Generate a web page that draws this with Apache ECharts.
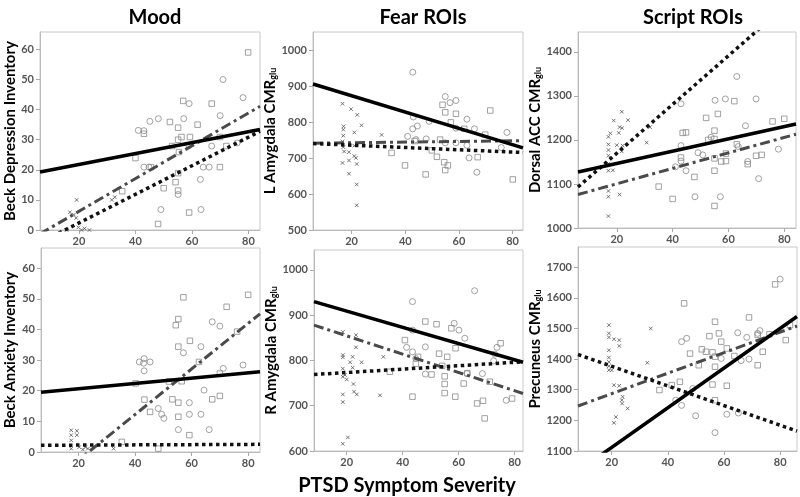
<!DOCTYPE html>
<html><head><meta charset="utf-8">
<script src="https://cdn.jsdelivr.net/npm/echarts@6/dist/echarts.min.js"></script>
<style>html,body{margin:0;padding:0;background:#fff}#c{width:800px;height:497px}</style>
</head><body><div id="c"></div>
<script>
// ---------- data ----------
const columnTitles = ['Mood', 'Fear ROIs', 'Script ROIs'];
const xTitle = 'PTSD Symptom Severity';
const xTicks = [20, 40, 60, 80];
const yNames = ['Beck Depression Inventory', 'L Amygdala CMR{s|glu}', 'Dorsal ACC CMR{s|glu}',
                'Beck Anxiety Inventory', 'R Amygdala CMR{s|glu}', 'Precuneus CMR{s|glu}'];
const yTicks = [
  [0, 10, 20, 30, 40, 50, 60],
  [500, 600, 700, 800, 900, 1000],
  [1000, 1100, 1200, 1300, 1400],
  [0, 10, 20, 30, 40, 50, 60],
  [600, 700, 800, 900, 1000],
  [1100, 1200, 1300, 1400, 1500, 1600, 1700]
];
const xRanges = [[6.2, 84.1], [5.6, 83.9], [6.1, 84.2], [6.7, 84.2], [8.3, 83], [8, 86]];
const yRanges = [[0, 65.8], [500, 1052], [1000, 1445], [0, 66.6], [600, 1044], [1100, 1766]];

// Beck Depression Inventory
const bdiCircles = [[41,33.1],[43,33],[45.1,36.1],[48.1,37],[57.1,37],[59,42],[43,20.9],[44.8,20.9],[49,6.8],[55.1,11.8],[59,28.1],[63,16.8],[63.2,6.8],[64,20.9],[66.1,20.9],[67,27.9],[70,38],[71,50],[76,28.9],[78.1,44]];
const bdiSquares = [[79.9,59],[40,23.9],[43,32],[45.5,20.9],[52.2,35.9],[53,27.9],[55.1,34],[56.9,42.9],[55.1,30],[56.3,30.9],[59.3,30.9],[55.4,25.9],[55.1,18.9],[54.2,15.9],[50,13.9],[55.1,13.1],[48,2],[59,5.8],[62,35],[67,42],[69.9,20.9],[69.9,30.9],[72.2,27.9],[35.3,12.9]];
const bdiCrosses = [[19.2,10],[16.8,5.9],[18.2,5.1],[31.6,10],[32.7,10.9],[20.9,0],[23.7,0],[15.6,0],[19.8,0.9],[19,4],[22,0.5]];
const bdiSolid = [[6.2,19.3],[84.1,33.4]];
const bdiDash = [[6.2,-1.3],[84.1,41.1]];
const bdiDot = [[6.2,-4.2],[84.1,32.8]];

// L Amygdala
const lamyCircles = [[42.8,940],[43,815],[42.8,782],[44.5,790],[40.9,761],[47.8,754],[48.9,803],[54.9,872],[56.7,855],[58.9,861],[58.9,784],[63,809],[65.8,782],[58.9,743],[54.9,743],[63.8,701],[66.7,661],[63,736],[77.9,772],[44,752],[75.8,730]];
const lamySquares = [[53.9,849],[54.9,828],[58.9,824],[57,800],[62,782],[71.7,833],[69.8,766],[53,752],[51.8,704],[49.9,722],[54.5,689],[54.9,667],[55.9,680],[47.6,655],[39.9,680],[34.9,715],[67,703],[80.1,641],[43.5,748]];
const lamyCrosses = [[16.6,852],[17,789],[16.9,780],[16.9,763],[16.6,747],[16.9,731],[17.2,719],[16.6,687],[19,694],[19,717],[19.8,837],[22.1,821],[21,772],[21,706],[21.6,701],[21.9,684],[21.9,627],[21.9,569],[19,657],[23.7,792],[31.2,765],[21,735]];
const lamySolid = [[5.6,907],[83.9,729]];
const lamyDash = [[5.6,742],[83.9,749]];
const lamyDot = [[5.6,741],[83.9,716]];

// Dorsal ACC
const daccCircles = [[43,1282],[43,1187],[43,1152],[41,1139],[44.8,1130],[48,1071],[49.1,1171],[55.2,1290],[58.9,1293],[57.1,1071],[63,1344],[63.5,1185],[66.1,1232],[66.9,1151],[69.9,1293],[70.8,1112],[77.9,1179],[53.8,1206],[50.8,1166]];
const daccSquares = [[35,1094],[40,1066],[43.6,1216],[44.8,1217],[43,1160],[47.8,1116],[52,1250],[52.8,1200],[55,1221],[55,1202],[55,1158],[55,1130],[55,1050],[56.2,1259],[59.1,1169],[59.1,1152],[57.4,1151],[62.1,1288],[63,1190],[66.9,1145],[69.9,1164],[71.9,1166],[75.8,1242],[80,1248]];
const daccCrosses = [[17,1027],[17,1071],[17,1084],[17,1130],[17,1146],[17,1164],[17,1177],[17,1190],[17,1207],[17.7,1215],[18.9,1244],[18.6,1131],[20,1188],[20.7,1216],[21,1229],[21.9,1227],[21.8,1264],[22.1,1187],[21.8,1174],[21,1076],[24,1245],[30.7,1194],[31.9,1229]];
const daccSolid = [[6.1,1127],[84.2,1236]];
const daccDash = [[6.1,1076],[84.2,1213]];
const daccDot = [[6.1,1093],[84.2,1525]];

// Beck Anxiety Inventory
const baiCircles = [[41.5,29.4],[43.2,30.5],[43.2,26.5],[45.3,29.4],[43,29],[48.2,14.2],[49.4,12.3],[57.1,32.4],[59.2,16.1],[59.2,12.3],[55.3,7.3],[63.3,34.4],[63.3,12.3],[64.4,20.2],[66.2,7.3],[67.3,42.5],[70,41.1],[71.2,27.3],[78.2,28.4],[50.2,11]];
const baiSquares = [[57.1,50.5],[80,51.3],[72.4,47.4],[54.4,41.4],[55.3,43.4],[59.4,36.3],[55.3,34.4],[62.6,29.4],[70,25.6],[76.1,39.3],[40.2,22.4],[43.3,17.1],[45.3,13.1],[53.2,17.2],[55.3,16.1],[55.3,11.5],[56.5,23.1],[67.3,17.2],[70,18.3],[59.2,5.5],[48.2,1.1],[35.3,3.3],[52,23]];
const baiCrosses = [[17.4,7.1],[19.4,6.9],[17.4,5.5],[17.4,3.8],[17.4,1.1],[20.2,1.6],[21.5,0.8],[22.4,1.6],[23.3,1.1],[32.4,1.1],[19.4,5.5]];
const baiSolid = [[6.7,19.5],[84.2,26.2]];
const baiDash = [[6.7,-12.5],[84.2,45.1]];
const baiDot = [[6.7,2.2],[84.2,2.5]];

// R Amygdala
const ramyCircles = [[43.5,930],[43.5,867],[43.5,819],[41.4,829],[48.1,830],[48.1,770],[58.4,882],[60.1,867],[62.2,849],[65.7,954],[68.5,771],[72.9,814],[73.7,829],[72.5,799],[77,712],[63,771],[44.7,804]];
const ramySquares = [[40.8,845],[44.7,793],[45.5,808],[48.1,886],[52.1,880],[50.3,769],[53,815],[54.1,788],[55,765],[55,748],[55,728],[55.9,808],[57.4,871],[58.8,720],[58.9,827],[61.8,749],[66.6,705],[68.7,711],[69.3,672],[71.1,753],[75,838],[79.1,716],[43.5,720],[35.4,775],[63.1,772]];
const ramyCrosses = [[18.6,616],[20.4,630],[18.6,708],[18.6,725],[18.6,764],[18.6,782],[18.6,807],[18.6,812],[18.6,863],[19.4,768],[20,758],[21.2,796],[22.1,784],[22.1,808],[22.4,748],[22.6,731],[23.6,725],[23.3,829],[23.3,856],[25.3,796],[33.1,808],[31.9,723]];
const ramySolid = [[8.3,930],[83,796]];
const ramyDash = [[8.3,878],[83,727]];
const ramyDot = [[8.3,769],[83,797]];

// Precuneus
const precCircles = [[44.9,1457],[46.7,1468],[42.8,1266],[44.9,1249],[48.9,1304],[49.9,1215],[56.8,1160],[59,1402],[61,1220],[64.9,1486],[66.1,1395],[68.1,1471],[68.9,1400],[72,1484],[72.8,1493],[65.1,1224],[80,1661]];
const precSquares = [[45.8,1582],[56.8,1522],[68.9,1536],[78.2,1644],[54.8,1475],[58.2,1484],[59,1457],[52.1,1432],[53.6,1424],[55.9,1422],[56.8,1408],[56.8,1375],[61,1435],[63.7,1410],[47.9,1418],[51,1380],[44.3,1326],[41.4,1315],[37,1299],[55.9,1317],[61,1313],[56.8,1266],[72,1380],[73.8,1424],[72,1479],[82,1462],[83.5,1511],[76.2,1481]];
const precCrosses = [[19,1511],[19,1484],[19,1471],[19,1429],[19,1405],[19,1391],[19,1377],[19,1364],[20,1364],[20.8,1465],[22.7,1462],[22.7,1443],[20.8,1315],[22.7,1313],[23.9,1277],[23.6,1266],[23.7,1255],[21.5,1211],[20.8,1192],[25.7,1239],[33.9,1500],[32.7,1388]];
const precSolid = [[8,1034],[86,1539]];
const precDash = [[8,1247],[86,1508]];
const precDot = [[8,1415],[86,1165]];

// ---------- layout / styles ----------
const panels = [
  {c: bdiCircles, s: bdiSquares, x: bdiCrosses, solid: bdiSolid, dash: bdiDash, dot: bdiDot},
  {c: lamyCircles, s: lamySquares, x: lamyCrosses, solid: lamySolid, dash: lamyDash, dot: lamyDot},
  {c: daccCircles, s: daccSquares, x: daccCrosses, solid: daccSolid, dash: daccDash, dot: daccDot},
  {c: baiCircles, s: baiSquares, x: baiCrosses, solid: baiSolid, dash: baiDash, dot: baiDot},
  {c: ramyCircles, s: ramySquares, x: ramyCrosses, solid: ramySolid, dash: ramyDash, dot: ramyDot},
  {c: precCircles, s: precSquares, x: precCrosses, solid: precSolid, dash: precDash, dot: precDot}
];
const gridPos = [
  {left: 40, top: 32, width: 220, height: 198},
  {left: 313, top: 32, width: 210, height: 198},
  {left: 578, top: 32, width: 218, height: 196},
  {left: 41, top: 248, width: 219, height: 204},
  {left: 314, top: 250, width: 209, height: 201},
  {left: 578, top: 247, width: 219, height: 204}
];
const nameGaps = [22, 29, 30, 23, 29, 30];
const FONT = 'Lato';
const plain = v => String(v);

const grids = [], xAxes = [], yAxes = [], series = [];
panels.forEach((p, i) => {
  grids.push(Object.assign({show: true, borderColor: '#c8c8c8', borderWidth: 1, containLabel: false}, gridPos[i]));
  xAxes.push({
    type: 'value', gridIndex: i, min: xRanges[i][0], max: xRanges[i][1],
    axisLine: {show: true, lineStyle: {color: '#bbb'}},
    axisTick: {show: true, length: 4, lineStyle: {color: '#aaa'}, customValues: xTicks},
    axisLabel: {customValues: xTicks, formatter: plain, margin: 6, color: '#555', fontFamily: FONT, fontWeight: 'bold', fontSize: 11},
    splitLine: {show: false}
  });
  yAxes.push({
    type: 'value', gridIndex: i, min: yRanges[i][0], max: yRanges[i][1],
    name: yNames[i], nameLocation: 'middle', nameGap: nameGaps[i], nameRotate: 90,
    nameTextStyle: {color: '#000', fontFamily: FONT, fontWeight: 'bold', fontSize: 15,
      rich: {s: {fontSize: 9, fontWeight: 'bold', fontFamily: FONT, color: '#000', verticalAlign: 'bottom', padding: [6, 0, 0, 0]}}},
    axisLine: {show: true, lineStyle: {color: '#bbb'}},
    axisTick: {show: true, length: 4, lineStyle: {color: '#aaa'}, customValues: yTicks[i]},
    axisLabel: {customValues: yTicks[i], formatter: plain, margin: 6, color: '#555', fontFamily: FONT, fontWeight: 'bold', fontSize: 11},
    splitLine: {show: false}
  });
  const base = {xAxisIndex: i, yAxisIndex: i, silent: true, animation: false};
  series.push(Object.assign({type: 'scatter', data: p.c, symbol: 'circle', symbolSize: 6,
    itemStyle: {color: 'rgba(0,0,0,0)', borderColor: '#8a8a8a', borderWidth: 1}}, base));
  series.push(Object.assign({type: 'scatter', data: p.s, symbol: 'rect', symbolSize: 5.5,
    itemStyle: {color: 'rgba(0,0,0,0)', borderColor: '#8a8a8a', borderWidth: 1}}, base));
  series.push(Object.assign({type: 'scatter', data: p.x, symbol: 'path://M0,0L10,10M10,0L0,10', symbolSize: 3.5,
    itemStyle: {color: 'rgba(0,0,0,0)', borderColor: '#555', borderWidth: 1}}, base));
  series.push(Object.assign({type: 'line', data: p.dash, symbol: 'none', clip: true,
    lineStyle: {color: '#4a4a4a', width: 3, type: [10, 4, 3, 4]}}, base));
  series.push(Object.assign({type: 'line', data: p.dot, symbol: 'none', clip: true,
    lineStyle: {color: '#111', width: 3.5, type: [3.5, 3.5], cap: 'butt'}}, base));
  series.push(Object.assign({type: 'line', data: p.solid, symbol: 'none', clip: true,
    lineStyle: {color: '#000', width: 3.5, type: 'solid'}}, base));
});

const titleCenters = [150, 418, 688];
const titles = columnTitles.map((t, i) => ({
  text: t, left: titleCenters[i], top: 3, textAlign: 'center',
  textStyle: {fontFamily: FONT, fontWeight: 'bold', fontSize: 20, color: '#000'}
}));
titles.push({text: xTitle, left: 402, top: 471, textAlign: 'center',
  textStyle: {fontFamily: FONT, fontWeight: 'bold', fontSize: 20, color: '#000'}});

const chart = echarts.init(document.getElementById('c'), null, {renderer: 'canvas'});
chart.setOption({
  animation: false,
  backgroundColor: '#fff',
  title: titles,
  grid: grids, xAxis: xAxes, yAxis: yAxes, series: series
});
</script></body></html>
